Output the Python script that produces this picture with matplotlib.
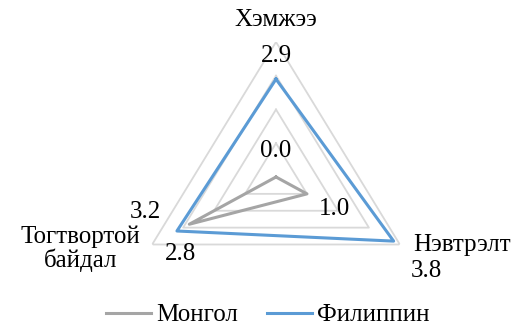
import numpy as np
import matplotlib.pyplot as plt

categories = ['Хэмжээ', 'Нэвтрэлт', 'Тогтвортой\nбайдал']
mongol = [0.0, 1.0, 2.8]
philippines = [2.9, 3.8, 3.2]
series_names = ['Монгол', 'Филиппин']
rings = [1, 2, 3, 4]

plt.rcParams['font.family'] = ['Liberation Serif', 'DejaVu Serif']

W, H = 522, 330
fig = plt.figure(figsize=(W / 100, H / 100), dpi=100)

# center (276, 177) px, radius ~ 135 px vertical / 143 px horizontal
cx, cy, rx, ry = 276, 177, 143, 135
ax = fig.add_axes([(cx - rx) / W, (H - cy - ry) / H, 2 * rx / W, 2 * ry / H],
                  projection='polar')
ax.set_aspect('auto')
ax.set_theta_offset(np.pi / 2)
ax.set_theta_direction(-1)
ax.set_ylim(0, 4)
ax.grid(False)
ax.set_xticks([])
ax.set_yticks([])
ax.spines['polar'].set_visible(False)
ax.patch.set_visible(False)

theta = np.linspace(0, 2 * np.pi, len(categories), endpoint=False)
closed = np.append(theta, theta[0])

for r in rings:
    ax.plot(closed, [r] * (len(theta) + 1), color='#d9d9d9', lw=1.3, zorder=1)

gray, blue = '#a5a5a5', '#5b9bd5'
ax.plot(closed, mongol + mongol[:1], color=gray, lw=2.2, label=series_names[0], zorder=3)
ax.plot(closed, philippines + philippines[:1], color=blue, lw=2.2, label=series_names[1], zorder=3)

fs = 18
# data labels (pixel offsets from point)
m_off = [(0, 26), (28, -15), (-9, -30)]
p_off = [(0, 23), (33, -30), (-32, 19)]
for t, v, o in zip(theta, mongol, m_off):
    ax.annotate(f'{v:.1f}', (t, v), xytext=o, textcoords='offset pixels',
                ha='center', va='center', fontsize=fs)
for t, v, o in zip(theta, philippines, p_off):
    ax.annotate(f'{v:.1f}', (t, v), xytext=o, textcoords='offset pixels',
                ha='center', va='center', fontsize=fs)

# category labels
cat_off = [((0, 22), 'center'), ((13, -1), 'left'), ((-72, -4), 'center')]
for t, c, (o, ha) in zip(theta, categories, cat_off):
    ax.annotate(c, (t, 4), xytext=o, textcoords='offset pixels',
                ha=ha, va='center', fontsize=fs, linespacing=1.05)

fig.legend(loc='center', bbox_to_anchor=(268 / W, 1 - 315 / H), ncol=2,
           frameon=False, fontsize=fs, handlelength=1.8, columnspacing=1.15,
           handletextpad=0.2, borderpad=0)

fig.savefig('out.png', dpi=100)
